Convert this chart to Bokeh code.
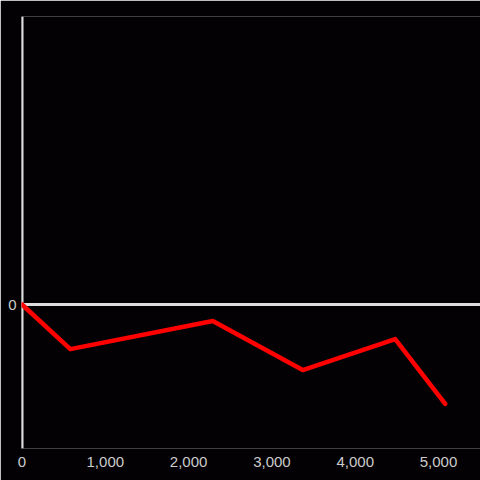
from bokeh.plotting import figure
from bokeh.models import Span, FixedTicker, NumeralTickFormatter, Range1d
from bokeh.embed import file_html
from bokeh.resources import INLINE

# data
x_values = [0, 580, 2290, 3370, 4480, 5080]
y_values = [0.0, -0.31, -0.115, -0.455, -0.24, -0.69]
x_ticks = [0, 1000, 2000, 3000, 4000, 5000]
y_ticks = [0]

BG = "#030104"
AXIS = "#dedede"
TEXT = "#cccccc"
FONT = "Liberation Sans"

p = figure(width=480, height=480, output_backend="svg", toolbar_location=None,
           x_range=Range1d(-6, 5504), y_range=Range1d(-1, 2),
           min_border_left=21, min_border_right=0, min_border_top=16, min_border_bottom=32)
p.background_fill_color = BG
p.border_fill_color = BG
p.outline_line_color = None
p.grid.visible = False

for ax in (p.xaxis[0], p.yaxis[0]):
    ax.axis_line_color = None
    ax.major_tick_line_color = None
    ax.minor_tick_line_color = None
    ax.major_tick_in = 0
    ax.major_tick_out = 0
    ax.minor_tick_in = 0
    ax.minor_tick_out = 0
    ax.major_label_text_color = TEXT
    ax.major_label_text_font = FONT
    ax.major_label_text_font_size = "15px"

p.xaxis.ticker = FixedTicker(ticks=x_ticks)
p.xaxis.formatter = NumeralTickFormatter(format="0,0")
p.xaxis.major_label_standoff = 8
p.yaxis.ticker = FixedTicker(ticks=y_ticks)
p.yaxis.major_label_standoff = 5

p.add_layout(Span(location=0, dimension="width", line_color=AXIS, line_width=3, level="underlay"))
p.add_layout(Span(location=0, dimension="height", line_color=AXIS, line_width=3, level="underlay"))

p.line(x_values, y_values, line_color="#ff0000", line_width=4.5, line_join="round", line_cap="round")

open("out.html", "w").write(file_html(p, INLINE))
